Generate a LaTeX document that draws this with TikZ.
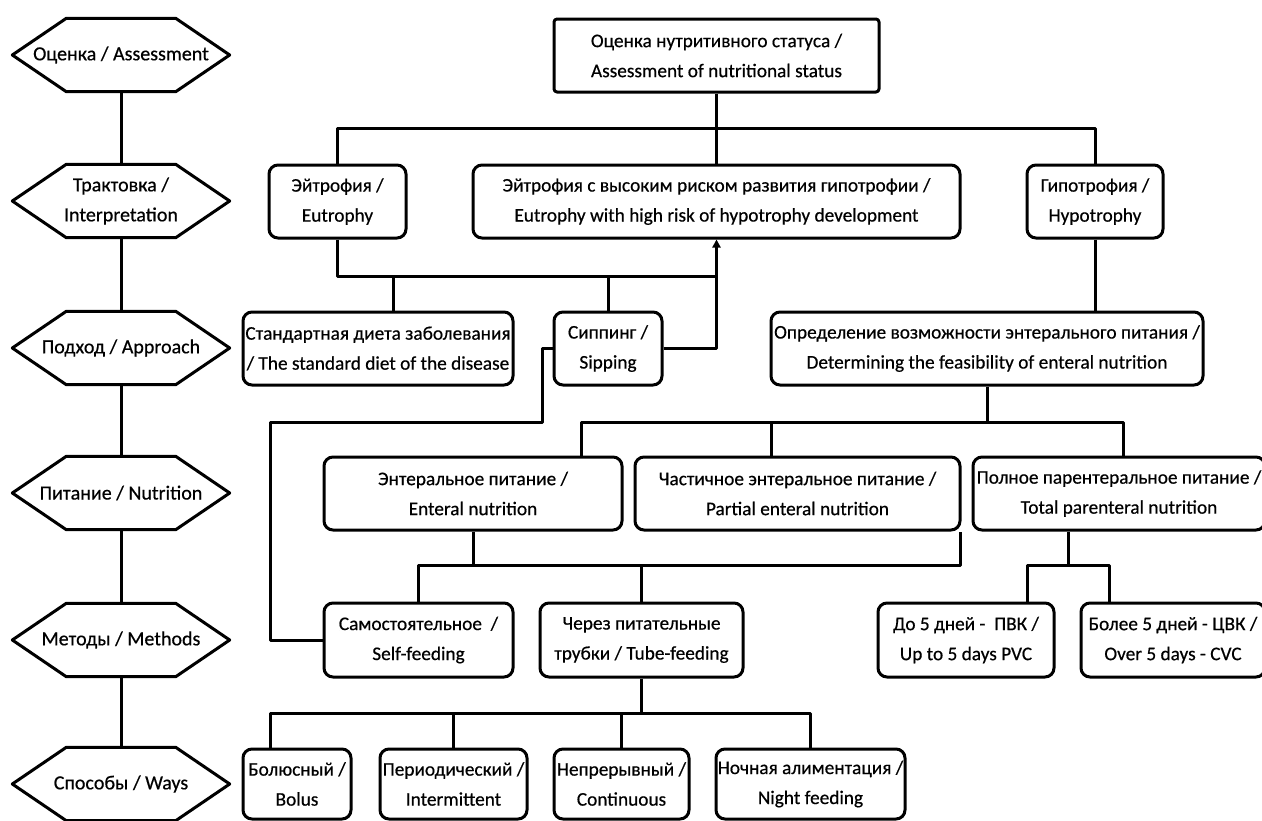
\documentclass[tikz,border=0pt]{standalone}
\usepackage{fontspec}
\setmainfont{Carlito}[FakeBold=0.5]
\usetikzlibrary{arrows.meta}
\tikzset{
  ln/.style={line width=3pt, line join=round},
  hexnode/.style={minimum width=217pt, minimum height=73pt, inner sep=0pt, align=center, font=\fontsize{20}{30}\selectfont},
  rbox/.style={ln, draw, rounded corners=9pt, inner sep=0pt, align=center, minimum height=73pt, font=\fontsize{19.3}{30}\selectfont},
  conn/.style={ln},
  arr/.style={ln, -{Triangle[length=8pt,width=8pt]}}
}
\newcommand\hexdraw[1]{\draw[ln] ([xshift=54pt]#1.north west) -- ([xshift=-54pt]#1.north east) -- (#1.east) -- ([xshift=-54pt]#1.south east) -- ([xshift=54pt]#1.south west) -- (#1.west) -- cycle;}
\begin{document}
\begin{tikzpicture}[x=1pt, y=-1pt]
\clip (0,0) rectangle (1262,820);
\fill[white] (0,0) rectangle (1262,820);

% left column hexagons
\node[hexnode] (h1) at (121,55) {Оценка / Assessment};
\node[hexnode] (h2) at (121,201) {Трактовка /\\Interpretation};
\node[hexnode] (h3) at (121,348) {Подход / Approach};
\node[hexnode] (h4) at (121,493) {Питание / Nutrition};
\node[hexnode] (h5) at (121,640) {Методы / Methods};
\node[hexnode] (h6) at (121,784) {Способы / Ways};
\hexdraw{h1}\hexdraw{h2}\hexdraw{h3}\hexdraw{h4}\hexdraw{h5}\hexdraw{h6}
\draw[conn] (h1) -- (h2);
\draw[conn] (h2) -- (h3);
\draw[conn] (h3) -- (h4);
\draw[conn] (h4) -- (h5);
\draw[conn] (h5) -- (h6);

% boxes
\node[rbox, rounded corners=3pt, minimum width=325pt] (top) at (716.5,55.5) {Оценка нутритивного статуса /\\Assessment of nutritional status};
\node[rbox, minimum width=137pt] (eu) at (337.5,201.5) {Эйтрофия /\\Eutrophy};
\node[rbox, minimum width=487pt] (risk) at (716.5,201.5) {Эйтрофия с высоким риском развития гипотрофии /\\Eutrophy with high risk of hypotrophy development};
\node[rbox, minimum width=136pt] (hypo) at (1095,201.5) {Гипотрофия /\\Hypotrophy};
\node[rbox, minimum width=270pt] (std) at (378,348.5) {Стандартная диета заболевания\\/ The standard diet of the disease};
\node[rbox, minimum width=108pt] (sip) at (608,348.5) {Сиппинг /\\Sipping};
\node[rbox, minimum width=432pt] (feas) at (987,348.5) {Определение возможности энтерального питания /\\Determining the feasibility of enteral nutrition};
\node[rbox, minimum width=298pt] (ent) at (473,493.5) {Энтеральное питание /\\Enteral nutrition};
\node[rbox, minimum width=325pt] (part) at (797.5,493.5) {Частичное энтеральное питание /\\Partial enteral nutrition};
\node[rbox, minimum width=292pt] (tpn) at (1119,493.5) {Полное парентеральное питание /\\Total parenteral nutrition};
\node[rbox, minimum width=189pt, minimum height=74pt] (self) at (418.5,640) {Самостоятельное\ \ /\\Self-feeding};
\node[rbox, minimum width=203pt, minimum height=74pt] (tube) at (641.5,640) {Через питательные\\трубки / Tube-feeding};
\node[rbox, minimum width=176pt, minimum height=74pt] (pvk) at (966,640) {До 5 дней -\ \ ПВК /\\Up to 5 days PVC};
\node[rbox, minimum width=184pt, minimum height=74pt] (cvk) at (1173,640) {Более 5 дней - ЦВК /\\Over 5 days - CVC};
\node[rbox, minimum width=108pt, minimum height=70pt] (bolus) at (297,784) {Болюсный /\\Bolus};
\node[rbox, minimum width=147pt, minimum height=70pt] (inter) at (453.5,784) {Периодический /\\Intermittent};
\node[rbox, minimum width=135pt, minimum height=70pt] (cont) at (621.5,784) {Непрерывный /\\Continuous};
\node[rbox, minimum width=189pt, minimum height=70pt] (night) at (810.5,784) {Ночная алиментация /\\Night feeding};

% bus levels
\coordinate (b1) at (0,128);
\coordinate (b2) at (0,276);
\coordinate (b3) at (0,422);
\coordinate (b4) at (0,565);
\coordinate (b5) at (0,713);
\coordinate (s1) at (542,422);
\coordinate (s2) at (270,422);

% assessment -> interpretation
\draw[conn] (top) -- (risk);
\draw[conn] (eu.north) |- (hypo.north |- b1) -- (hypo.north);

% eutrophy -> approach
\draw[conn] (eu.south) |- (risk.south |- b2);
\draw[conn] ([xshift=15pt]std.north) -- ([xshift=15pt]std.north |- b2);
\draw[conn] (sip.north) -- (sip.north |- b2);
\draw[arr] (sip.east) -| (risk.south);

% sipping -> self-feeding
\draw[conn] (sip.west) -| (s1) -- (s2) |- (self.west);

% hypotrophy -> feasibility
\draw[conn] (hypo.south) -- (hypo.south |- feas.north);

% feasibility -> nutrition
\draw[conn] (feas.south) -- (feas.south |- b3);
\draw[conn] ([xshift=108pt]ent.north) |- ([xshift=4pt]tpn.north |- b3) -- ([xshift=4pt]tpn.north);
\draw[conn] ([xshift=-26.5pt]part.north) -- ([xshift=-26.5pt]part.north |- b3);

% enteral / partial -> methods
\draw[conn] (ent.south) -- (ent.south |- b4);
\draw[conn] (self.north) |- ([xshift=-1.5pt]part.south east |- b4) -- ([xshift=-1.5pt]part.south east);
\draw[conn] (tube.north) -- (tube.north |- b4);

% parenteral -> catheters
\draw[conn] ([xshift=-51pt]tpn.south) -- ([xshift=-51pt]tpn.south |- b4);
\draw[conn] ([xshift=61pt]pvk.north) |- ([xshift=-64pt]cvk.north |- b4) -- ([xshift=-64pt]cvk.north);

% tube-feeding -> ways
\draw[conn] (tube.south) -- (tube.south |- b5);
\draw[conn] ([xshift=-27pt]bolus.north) |- (night.north |- b5) -- (night.north);
\draw[conn] (inter.north) -- (inter.north |- b5);
\draw[conn] (cont.north) -- (cont.north |- b5);
\end{tikzpicture}
\end{document}
